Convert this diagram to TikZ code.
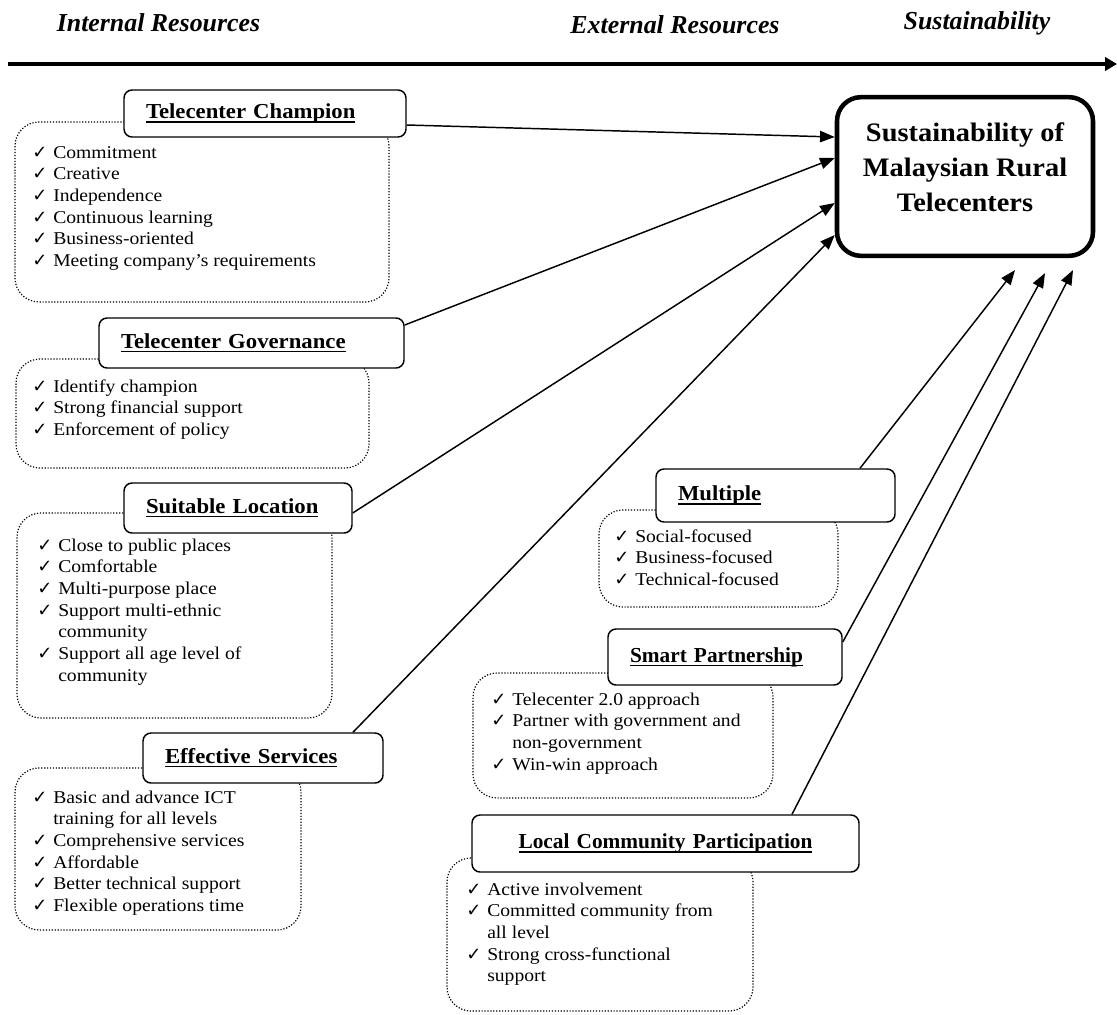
\documentclass[tikz,border=0pt]{standalone}
\usepackage{fontspec}
\setmainfont{Liberation Serif}
\newfontfamily\camfont[FakeStretch=1.09]{Liberation Serif}
\newfontfamily\cambfont[FakeStretch=1.065]{Liberation Serif}
\newfontfamily\symfont{DejaVu Sans}
\usetikzlibrary{arrows.meta,calc}
\newcommand\ck{\makebox[15.75pt][l]{\symfont\fontsize{13.5pt}{13.5pt}\selectfont ✓}}
\newcommand\ind{\hspace*{15.75pt}}
\newcommand\ulx[1]{\setbox0=\hbox{#1}\rlap{\rule[-3pt]{\wd0}{1.1pt}}\box0}
\tikzset{
  titlebox/.style={draw, line width=1.1pt, rounded corners=6pt, fill=white,
    inner xsep=16.5pt, inner ysep=0pt, align=left, text height=11pt, text depth=3pt,
    font=\cambfont\bfseries\fontsize{16pt}{19pt}\selectfont},
  timesbox/.style={font=\rmfamily\bfseries\fontsize{16pt}{19pt}\selectfont},
  dotbox/.style={draw, dash pattern=on 0.9pt off 1.3pt, line width=0.9pt, rounded corners=18pt, inner sep=0pt},
  lst/.style={inner sep=0pt, anchor=base west, font=\camfont\fontsize{13.5pt}{16.3pt}\selectfont},
  conn/.style={line width=1.1pt, -{Triangle[length=11pt,width=8.5pt]}},
  hdr/.style={anchor=base, inner sep=0pt, font=\bfseries\itshape\fontsize{19.4pt}{23pt}\selectfont},
  mainbox/.style={draw, line width=3.4pt, rounded corners=18pt, minimum width=192pt, minimum height=119pt, inner sep=0pt},
}
\begin{document}
\begin{tikzpicture}[x=0.75pt,y=-0.75pt]
\path[fill=white] (0,0) rectangle (1117,1014);
\useasboundingbox (0,0) rectangle (1117,1014);

% header
\node[hdr] (ir) at (158.5,31) {Internal Resources};
\node[hdr] (er) at (675,33) {External Resources};
\node[hdr] (sr) at (977,29) {Sustainability};
\coordinate (hs) at (8,64);
\coordinate (he) at (1117,64);
\draw[line width=3pt, -{Triangle[length=9pt,width=10pt]}] (hs) -- (he);

% dotted list boxes
\node[dotbox, minimum width=280.5pt, minimum height=135pt] (chd) at (202,212) {};
\node[dotbox, minimum width=264.75pt, minimum height=81.75pt] (gvd) at (192.5,413.5) {};
\node[dotbox, minimum width=236.25pt, minimum height=153.75pt] (sld) at (174.5,615.5) {};
\node[dotbox, minimum width=214.5pt, minimum height=121.5pt] (esd) at (158,849) {};
\node[dotbox, minimum width=179.25pt, minimum height=72.75pt] (mpd) at (718.5,558.5) {};
\node[dotbox, minimum width=225pt, minimum height=93.75pt] (spd) at (623,735.5) {};
\node[dotbox, minimum width=229.5pt, minimum height=114.75pt] (lcd) at (600,934.5) {};

% title boxes
\node[titlebox, minimum width=211.5pt, minimum height=35.25pt, text width=178.5pt] (champ) at (265,113.5) {\ulx{Telecenter Champion}};
\node[titlebox, minimum width=228.75pt, minimum height=37.5pt, text width=195.75pt] (gov) at (251.5,343) {\ulx{Telecenter Governance}};
\node[titlebox, minimum width=171pt, minimum height=37.5pt, text width=138pt] (suit) at (238,508) {\ulx{Suitable Location}};
\node[titlebox, minimum width=180pt, minimum height=37.5pt, text width=147pt] (eff) at (263,758) {\ulx{Effective Services}};
\node[titlebox, minimum width=179.25pt, minimum height=39.75pt, text width=146.25pt] (mult) at (775.5,495.5) {\ulx{Multiple}};
\node[titlebox, timesbox, minimum width=175.5pt, minimum height=42pt, text width=142.5pt] (smart) at (725,657) {\ulx{Smart Partnership}};
\node[titlebox, timesbox, align=center, minimum width=290.25pt, minimum height=42.75pt, text width=257.25pt] (local) at (665.5,843.5) {\ulx{Local Community Participation}};

% lists
\node[lst] (chl) at (32,158) {\begin{tabular}[t]{@{}l@{}}
\ck Commitment\\ \ck Creative\\ \ck Independence\\ \ck Continuous learning\\
\ck Business-oriented\\ \ck Meeting company’s requirements\end{tabular}};
\node[lst] (gvl) at (32,392) {\begin{tabular}[t]{@{}l@{}}
\ck Identify champion\\ \ck Strong financial support\\ \ck Enforcement of policy\end{tabular}};
\node[lst] (sll) at (37,551) {\begin{tabular}[t]{@{}l@{}}
\ck Close to public places\\ \ck Comfortable\\ \ck Multi-purpose place\\
\ck Support multi-ethnic\\ \ind community\\ \ck Support all age level of\\ \ind community\end{tabular}};
\node[lst] (esl) at (32,803) {\begin{tabular}[t]{@{}l@{}}
\ck Basic and advance ICT\\ \ind training for all levels\\ \ck Comprehensive services\\
\ck Affordable\\ \ck Better technical support\\ \ck Flexible operations time\end{tabular}};
\node[lst] (mpl) at (614,542) {\begin{tabular}[t]{@{}l@{}}
\ck Social-focused\\ \ck Business-focused\\ \ck Technical-focused\end{tabular}};
\node[lst] (spl) at (491,705) {\begin{tabular}[t]{@{}l@{}}
\ck Telecenter 2.0 approach\\ \ck Partner with government and\\ \ind non-government\\
\ck Win-win approach\end{tabular}};
\node[lst] (lcl) at (466,895) {\begin{tabular}[t]{@{}l@{}}
\ck Active involvement\\ \ck Committed community from\\ \ind all level\\
\ck Strong cross-functional\\ \ind support\end{tabular}};

% central box
\node[mainbox] (sust) at (965,176.5) {};
\node[inner sep=0pt, align=center, font=\cambfont\bfseries\fontsize{20pt}{26.25pt}\selectfont] (sustt) at (965,167) {Sustainability of\\Malaysian Rural\\Telecenters};

% free ends below the central box
\coordinate (e1) at ($(sust.south)+(50,12)$);
\coordinate (e2) at ($(sust.south)+(80,15)$);
\coordinate (e3) at ($(sust.south)+(108,12)$);

% connectors
\draw[conn] ($(champ.east)+(0,11.5)$) -- ($(sust.west)+(0,-39.5)$);
\draw[conn] ($(gov.east)+(0,-18)$) -- ($(sust.west)+(0,-18.5)$);
\draw[conn] ($(suit.east)+(0,5)$) -- ($(sust.west)+(0,26.5)$);
\draw[conn] ($(eff.north)+(90,0)$) -- ($(sust.west)+(0,58.5)$);
\draw[conn] ($(mult.north)+(84.5,0)$) -- (e1);
\draw[conn] ($(smart.east)+(0,-15)$) -- (e2);
\draw[conn] ($(local.north)+(126.5,0)$) -- (e3);
\end{tikzpicture}
\end{document}
